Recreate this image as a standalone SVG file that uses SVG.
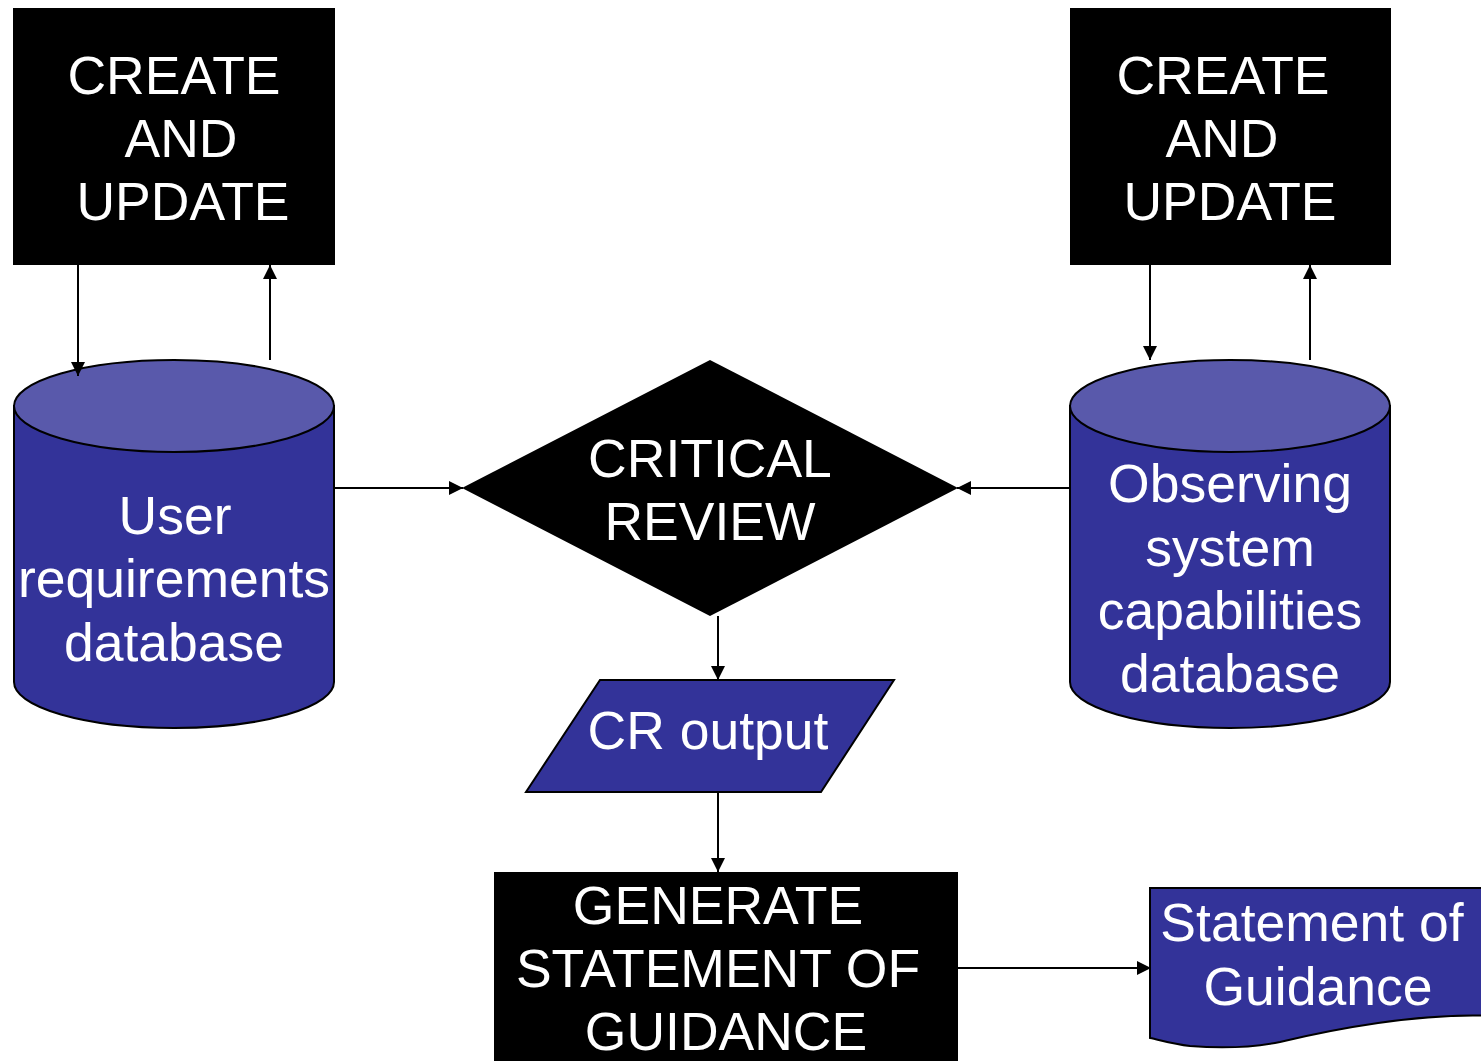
<svg xmlns="http://www.w3.org/2000/svg" width="1481" height="1061" viewBox="0 0 1481 1061">
  <style>
    .box { fill: #000; }
    .db { fill: #333399; stroke: #000; stroke-width: 2; }
    .dbtop { fill: #5959AB; stroke: #000; stroke-width: 2; }
    .io { fill: #333399; stroke: #000; stroke-width: 2; }
    .lbl { font-family: "Liberation Sans", Arial, sans-serif; font-size: 53.5px; fill: #fff; text-anchor: middle; }
    .edge { stroke: #000; stroke-width: 2; fill: none; marker-end: url(#arrow); }
  </style>
  <defs>
    <marker id="arrow" markerUnits="userSpaceOnUse" markerWidth="14" markerHeight="14" viewBox="0 0 14 14" refX="14" refY="7" orient="auto">
      <path d="M0,0 L14,7 L0,14 Z" fill="#000"/>
    </marker>
  </defs>

  <rect width="1481" height="1061" fill="#fff"/>

  <!-- create/update box, left -->
  <g id="create-update-left">
    <rect class="box" x="13" y="8" width="322" height="257"/>
    <text class="lbl"><tspan x="174" y="94">CREATE</tspan><tspan x="181" y="157">AND</tspan><tspan x="183" y="220">UPDATE</tspan></text>
  </g>

  <!-- create/update box, right -->
  <g id="create-update-right">
    <rect class="box" x="1070" y="8" width="321" height="257"/>
    <text class="lbl"><tspan x="1223" y="94">CREATE</tspan><tspan x="1222" y="157">AND</tspan><tspan x="1230" y="220">UPDATE</tspan></text>
  </g>

  <!-- user requirements database -->
  <g id="user-requirements-db">
    <path class="db" d="M14,406 L14,682 A160,46 0 0 0 334,682 L334,406 Z"/>
    <ellipse class="dbtop" cx="174" cy="406" rx="160" ry="46"/>
    <text class="lbl"><tspan x="175" y="534">User</tspan><tspan x="174" y="597">requirements</tspan><tspan x="174" y="661">database</tspan></text>
  </g>

  <!-- observing system capabilities database -->
  <g id="osc-db">
    <path class="db" d="M1070,406 L1070,682 A160,46 0 0 0 1390,682 L1390,406 Z"/>
    <ellipse class="dbtop" cx="1230" cy="406" rx="160" ry="46"/>
    <text class="lbl"><tspan x="1230" y="502">Observing</tspan><tspan x="1230" y="566">system</tspan><tspan x="1230" y="629">capabilities</tspan><tspan x="1230" y="692">database</tspan></text>
  </g>

  <!-- critical review decision -->
  <g id="critical-review">
    <polygon class="box" points="710,360 958,488 710,616 462,488"/>
    <text class="lbl"><tspan x="710" y="477">CRITICAL</tspan><tspan x="710" y="540">REVIEW</tspan></text>
  </g>

  <!-- CR output -->
  <g id="cr-output">
    <polygon class="io" points="600,680 894,680 821,792 526,792"/>
    <text class="lbl" x="708" y="749">CR output</text>
  </g>

  <!-- generate statement -->
  <g id="generate-statement">
    <rect class="box" x="494" y="872" width="464" height="200"/>
    <text class="lbl"><tspan x="718" y="924">GENERATE</tspan><tspan x="718" y="987">STATEMENT OF</tspan><tspan x="726" y="1050">GUIDANCE</tspan></text>
  </g>

  <!-- statement of guidance document -->
  <g id="statement-of-guidance">
    <path class="io" d="M1150,888 L1495,888 L1495,1016 C1420,1012 1330,1030 1280,1042 C1250,1048 1215,1048 1190,1046 C1172,1044 1160,1040 1150,1038 Z"/>
    <text class="lbl"><tspan x="1312" y="941">Statement of</tspan><tspan x="1318" y="1005">Guidance</tspan></text>
  </g>

  <!-- connectors, drawn over the node shapes -->
  <g id="connectors">
    <line class="edge" x1="78" y1="265" x2="78" y2="376"/>
    <line class="edge" x1="270" y1="360" x2="270" y2="265"/>
    <line class="edge" x1="1150" y1="265" x2="1150" y2="360"/>
    <line class="edge" x1="1310" y1="360" x2="1310" y2="265"/>
    <line class="edge" x1="334" y1="488" x2="463" y2="488"/>
    <line class="edge" x1="1070" y1="488" x2="957" y2="488"/>
    <line class="edge" x1="718" y1="616" x2="718" y2="680"/>
    <line class="edge" x1="718" y1="792" x2="718" y2="872"/>
    <line class="edge" x1="958" y1="968" x2="1151" y2="968"/>
  </g>
</svg>
